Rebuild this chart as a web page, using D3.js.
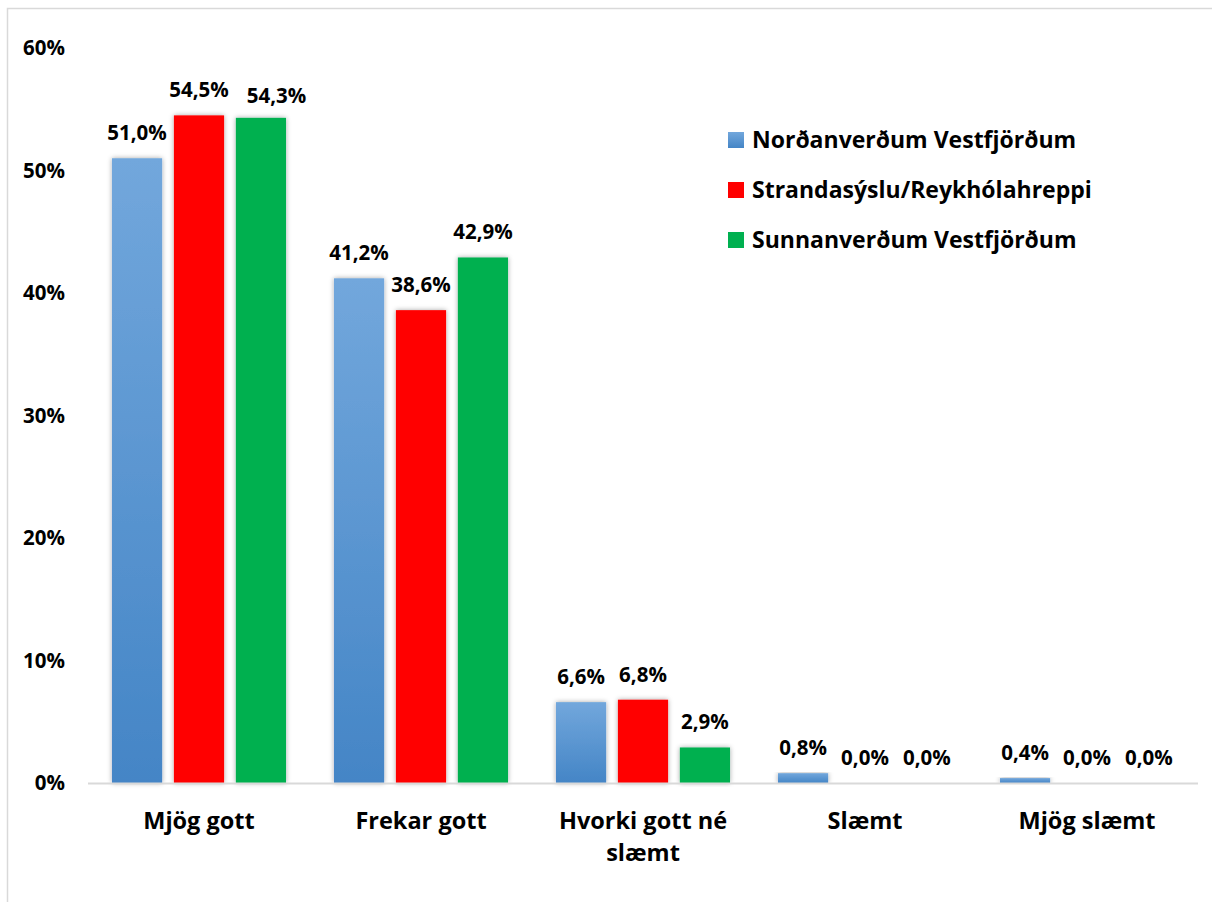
<!DOCTYPE html>
<html><head><meta charset="utf-8">
<script src="https://cdn.jsdelivr.net/npm/d3@7"></script>
<style>body{margin:0;background:#fff}svg{display:block}text{font-family:"Open Sans",sans-serif;font-weight:700;fill:#000}</style>
</head><body><svg id="c" width="1212" height="902"></svg>
<script>
const categories = [["Mjög gott"], ["Frekar gott"], ["Hvorki gott né", "slæmt"], ["Slæmt"], ["Mjög slæmt"]];
const seriesNames = ["Norðanverðum Vestfjörðum", "Strandasýslu/Reykhólahreppi", "Sunnanverðum Vestfjörðum"];
const nordan = [51.0, 41.2, 6.6, 0.8, 0.4];
const stranda = [54.5, 38.6, 6.8, 0.0, 0.0];
const sunnan = [54.3, 42.9, 2.9, 0.0, 0.0];
const yTicks = [0, 10, 20, 30, 40, 50, 60];
const seriesValues = [nordan, stranda, sunnan];

const svg = d3.select("#c");
const defs = svg.append("defs");
const g1 = defs.append("linearGradient").attr("id","gBlue").attr("x1",0).attr("y1",0).attr("x2",0).attr("y2",1);
g1.append("stop").attr("offset","0%").attr("stop-color","#72a7dc");
g1.append("stop").attr("offset","100%").attr("stop-color","#4485c6");
const f = defs.append("filter").attr("id","sh").attr("x","-30%").attr("y","-10%").attr("width","160%").attr("height","120%");
f.append("feDropShadow").attr("dx",0).attr("dy",0).attr("stdDeviation",2.5).attr("flood-color","#000").attr("flood-opacity",0.35);

const fills = ["url(#gBlue)", "#ff0000", "#00b050"];

// frame
svg.append("path").attr("d","M7.5,902 V8.5 H1212").attr("fill","none").attr("stroke","#d9d9d9").attr("stroke-width",1.5);

const x0 = d3.scaleBand().domain(d3.range(categories.length)).range([88, 1198]).paddingInner(0.216).paddingOuter(0.108);
const x1 = d3.scaleBand().domain(d3.range(3)).range([0, x0.bandwidth()]).paddingInner(0.19);
const y = d3.scaleLinear().domain([0, 60]).range([783, 48]);

// y tick labels
svg.append("g").selectAll("text").data(yTicks).join("text")
  .attr("x", 65).attr("y", d => y(d)).attr("dy","0.36em").attr("text-anchor","end")
  .style("font-size","20.5px").text(d => d + "%");

// bars
const groups = svg.append("g").selectAll("g").data(categories).join("g")
  .attr("transform", (d,i) => `translate(${x0(i)},0)`);
seriesValues.forEach((vals, s) => {
  groups.append("rect")
    .attr("x", x1(s)).attr("width", x1.bandwidth())
    .attr("y", (d,i) => y(vals[i])).attr("height", (d,i) => y(0) - y(vals[i]))
    .attr("fill", fills[s]).attr("filter","url(#sh)");
});

// axis line
svg.append("line").attr("x1",88).attr("x2",1198).attr("y1",783.5).attr("y2",783.5).attr("stroke","#d9d9d9").attr("stroke-width",2);

// data labels with simple collision avoidance (shift right when crowding neighbour)
groups.each(function(d, i){
  const gsel = d3.select(this);
  let prev = null;
  seriesValues.forEach((vals, s) => {
    const cx = x1(s) + x1.bandwidth()/2;
    const by = y(vals[i]) - 18;
    const t = gsel.append("text").attr("x", cx).attr("y", by)
      .attr("text-anchor","middle").style("font-size","20.5px")
      .text(vals[i].toFixed(1).replace(".", ",") + "%");
    const w = t.node().getComputedTextLength();
    let left = cx - w/2;
    if (prev && Math.abs(prev.y - by) < 12 && left - prev.right < 8) {
      const shift = prev.right + 18 - left;
      t.attr("x", cx + shift).attr("y", by + 3);
      left += shift;
    }
    prev = {right: left + w, y: by};
  });
});

// category labels
groups.append("text").attr("text-anchor","middle").style("font-size","23.5px")
  .each(function(d){
    const t = d3.select(this);
    d.forEach((line, k) => t.append("tspan").attr("x", x0.bandwidth()/2).attr("y", 829 + k*32).text(line));
  });

// legend
const lg = svg.append("g").selectAll("g").data(seriesNames).join("g")
  .attr("transform", (d,i) => `translate(728,${132 + i*50})`);
lg.append("rect").attr("width",16).attr("height",16).attr("fill",(d,i)=>fills[i]);
lg.append("text").attr("x",24).attr("y",8).attr("dy","0.36em").style("font-size","23px").text(d=>d);
</script></body></html>
